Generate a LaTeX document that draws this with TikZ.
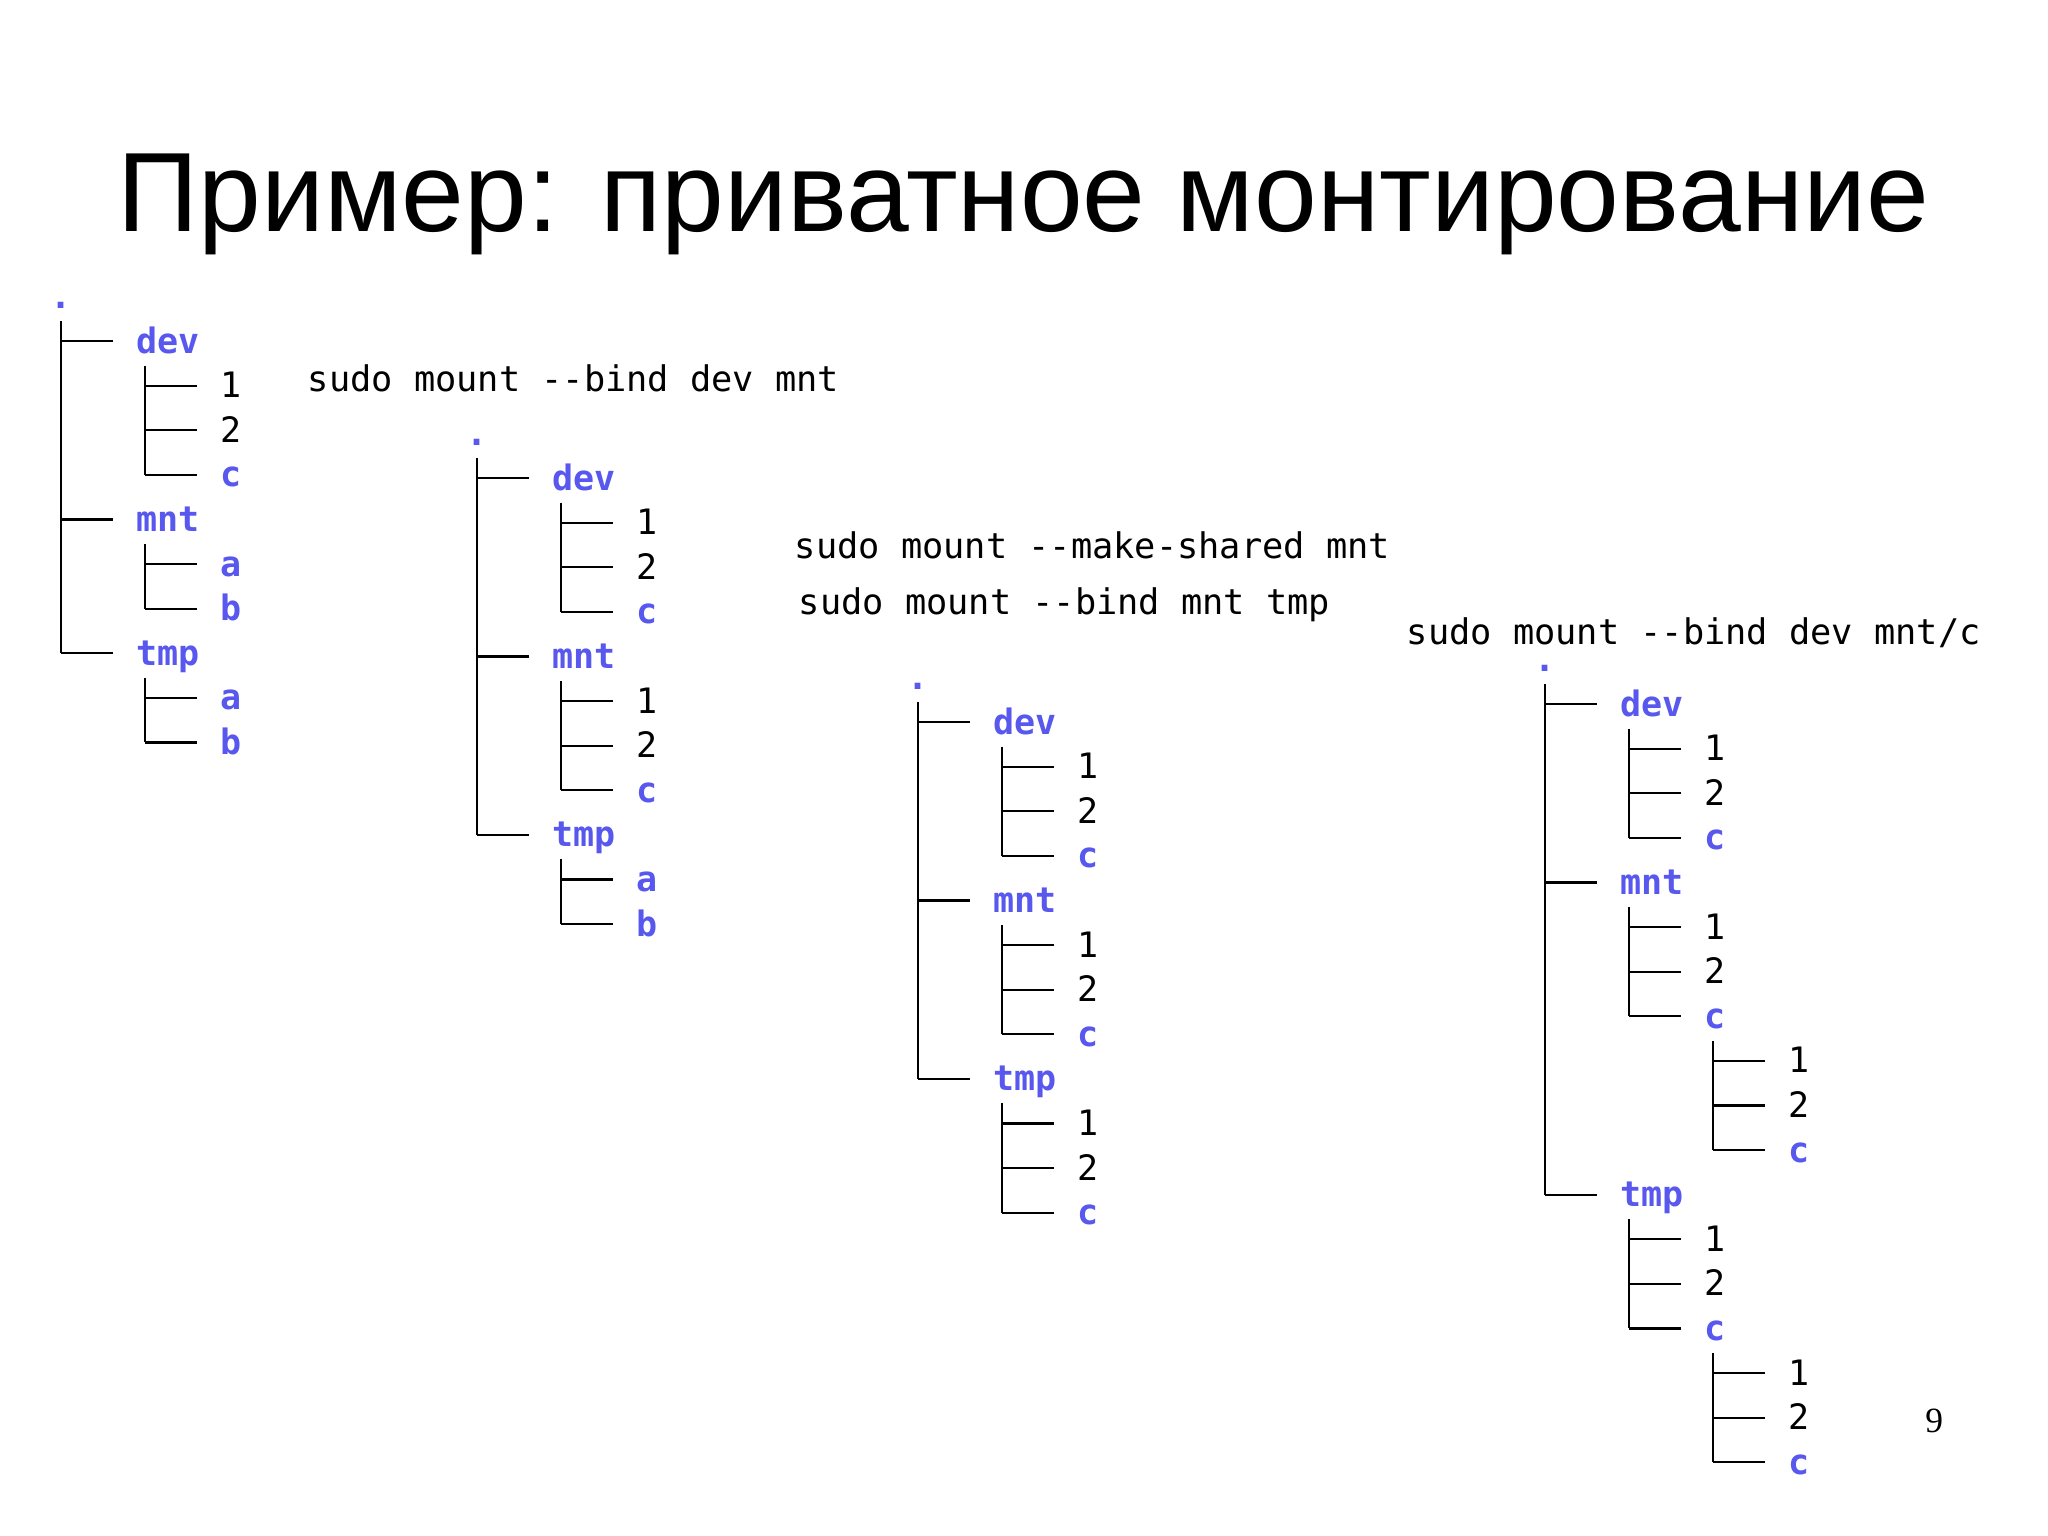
\documentclass[tikz,border=0pt]{standalone}
\usepackage{fontspec}
\setmainfont{Liberation Sans}
\newfontfamily\monof{DejaVu Sans Mono}
\newfontfamily\serifnum{Liberation Serif}
\definecolor{dirblue}{RGB}{88,88,238}
\tikzset{
  tline/.style={line width=1.1pt, black},
  dirn/.style={inner sep=0pt, anchor=base west, font=\monof\bfseries\fontsize{17.5}{20}\selectfont, text=dirblue},
  filen/.style={inner sep=0pt, anchor=base west, font=\monof\fontsize{17.5}{20}\selectfont, text=black},
  rootdot/.style={inner sep=0pt, anchor=base, text height=4pt, text depth=0pt, font=\monof\bfseries\fontsize{17.5}{20}\selectfont, text=dirblue},
  cmdtext/.style={inner sep=0pt, anchor=base west, font=\monof\fontsize{17.65}{20}\selectfont, text=black},
}
% #1 name, #2 trunk x, #3 row y, #4 style, #5 text
\newcommand\br[5]{%
  \coordinate (#1j) at (#2,#3);
  \node[#4] (#1) at (#2+75,#3+12) {#5};
  \draw[tline] (#1j) -- ++(52,0);}
% #1 name, #2 x, #3 y, #4 end coordinate name
\newcommand\trunk[4]{%
  \coordinate (#1) at (#2,#3);
  \draw[tline] (#1) -- (#4);}
\begin{document}
\begin{tikzpicture}[x=0.5pt,y=-0.5pt]
\fill[white] (0,0) rectangle (2048,1535);
\useasboundingbox (0,0) rectangle (2048,1535);

\node[anchor=base west, inner sep=0pt, font=\fontsize{56.4}{68}\selectfont] (title) at (117,232) {Пример: приватное монтирование};

% ---------- tree 1 ----------
\node[rootdot] (t1root) at (61,308.4) {.};
\br{t1dev}{61}{341}{dirn}{dev}
\br{t1dev1}{145}{385.6}{filen}{1}
\br{t1dev2}{145}{430.2}{filen}{2}
\br{t1devc}{145}{474.8}{dirn}{c}
\trunk{t1devtop}{145}{365.6}{t1devcj}
\br{t1mnt}{61}{519.4}{dirn}{mnt}
\br{t1mnta}{145}{564}{dirn}{a}
\br{t1mntb}{145}{608.6}{dirn}{b}
\trunk{t1mnttop}{145}{544}{t1mntbj}
\br{t1tmp}{61}{653.2}{dirn}{tmp}
\br{t1tmpa}{145}{697.8}{dirn}{a}
\br{t1tmpb}{145}{742.4}{dirn}{b}
\trunk{t1tmptop}{145}{677.8}{t1tmpbj}
\trunk{t1top}{61}{321}{t1tmpj}

\node[cmdtext] (cmd1) at (307.5,391) {sudo mount -{}-bind dev mnt};

% ---------- tree 2 ----------
\node[rootdot] (t2root) at (477,445.4) {.};
\br{t2dev}{477}{478}{dirn}{dev}
\br{t2dev1}{561}{522.6}{filen}{1}
\br{t2dev2}{561}{567.2}{filen}{2}
\br{t2devc}{561}{611.8}{dirn}{c}
\trunk{t2devtop}{561}{502.6}{t2devcj}
\br{t2mnt}{477}{656.4}{dirn}{mnt}
\br{t2mnt1}{561}{701}{filen}{1}
\br{t2mnt2}{561}{745.6}{filen}{2}
\br{t2mntc}{561}{790.2}{dirn}{c}
\trunk{t2mnttop}{561}{681}{t2mntcj}
\br{t2tmp}{477}{834.8}{dirn}{tmp}
\br{t2tmpa}{561}{879.4}{dirn}{a}
\br{t2tmpb}{561}{924}{dirn}{b}
\trunk{t2tmptop}{561}{859.4}{t2tmpbj}
\trunk{t2top}{477}{458}{t2tmpj}

\node[cmdtext] (cmd2) at (794.5,558) {sudo mount -{}-make-shared mnt};
\node[cmdtext] (cmd3) at (798.5,614) {sudo mount -{}-bind mnt tmp};

% ---------- tree 3 ----------
\node[rootdot] (t3root) at (918,689.4) {.};
\br{t3dev}{918}{722}{dirn}{dev}
\br{t3dev1}{1002}{766.6}{filen}{1}
\br{t3dev2}{1002}{811.2}{filen}{2}
\br{t3devc}{1002}{855.8}{dirn}{c}
\trunk{t3devtop}{1002}{746.6}{t3devcj}
\br{t3mnt}{918}{900.4}{dirn}{mnt}
\br{t3mnt1}{1002}{945}{filen}{1}
\br{t3mnt2}{1002}{989.6}{filen}{2}
\br{t3mntc}{1002}{1034.2}{dirn}{c}
\trunk{t3mnttop}{1002}{925}{t3mntcj}
\br{t3tmp}{918}{1078.8}{dirn}{tmp}
\br{t3tmp1}{1002}{1123.4}{filen}{1}
\br{t3tmp2}{1002}{1168}{filen}{2}
\br{t3tmpc}{1002}{1212.6}{dirn}{c}
\trunk{t3tmptop}{1002}{1103.4}{t3tmpcj}
\trunk{t3top}{918}{702}{t3tmpj}

\node[cmdtext] (cmd4) at (1406.5,644) {sudo mount -{}-bind dev mnt/c};

% ---------- tree 4 ----------
\node[rootdot] (t4root) at (1545,671.4) {.};
\br{t4dev}{1545}{704}{dirn}{dev}
\br{t4dev1}{1629}{748.6}{filen}{1}
\br{t4dev2}{1629}{793.2}{filen}{2}
\br{t4devc}{1629}{837.8}{dirn}{c}
\trunk{t4devtop}{1629}{728.6}{t4devcj}
\br{t4mnt}{1545}{882.4}{dirn}{mnt}
\br{t4mnt1}{1629}{927}{filen}{1}
\br{t4mnt2}{1629}{971.6}{filen}{2}
\br{t4mntc}{1629}{1016.2}{dirn}{c}
\trunk{t4mnttop}{1629}{907}{t4mntcj}
\br{t4mntc1}{1713}{1060.8}{filen}{1}
\br{t4mntc2}{1713}{1105.4}{filen}{2}
\br{t4mntcc}{1713}{1150}{dirn}{c}
\trunk{t4mntctop}{1713}{1040.8}{t4mntccj}
\br{t4tmp}{1545}{1194.6}{dirn}{tmp}
\br{t4tmp1}{1629}{1239.2}{filen}{1}
\br{t4tmp2}{1629}{1283.8}{filen}{2}
\br{t4tmpc}{1629}{1328.4}{dirn}{c}
\trunk{t4tmptop}{1629}{1219.2}{t4tmpcj}
\br{t4tmpc1}{1713}{1373}{filen}{1}
\br{t4tmpc2}{1713}{1417.6}{filen}{2}
\br{t4tmpcc}{1713}{1462.2}{dirn}{c}
\trunk{t4tmpctop}{1713}{1353}{t4tmpccj}
\trunk{t4top}{1545}{684}{t4tmpj}

\node[anchor=base west, inner sep=0pt, font=\serifnum\fontsize{17.75}{20}\selectfont] (pnum) at (1925,1432) {9};
\end{tikzpicture}
\end{document}
